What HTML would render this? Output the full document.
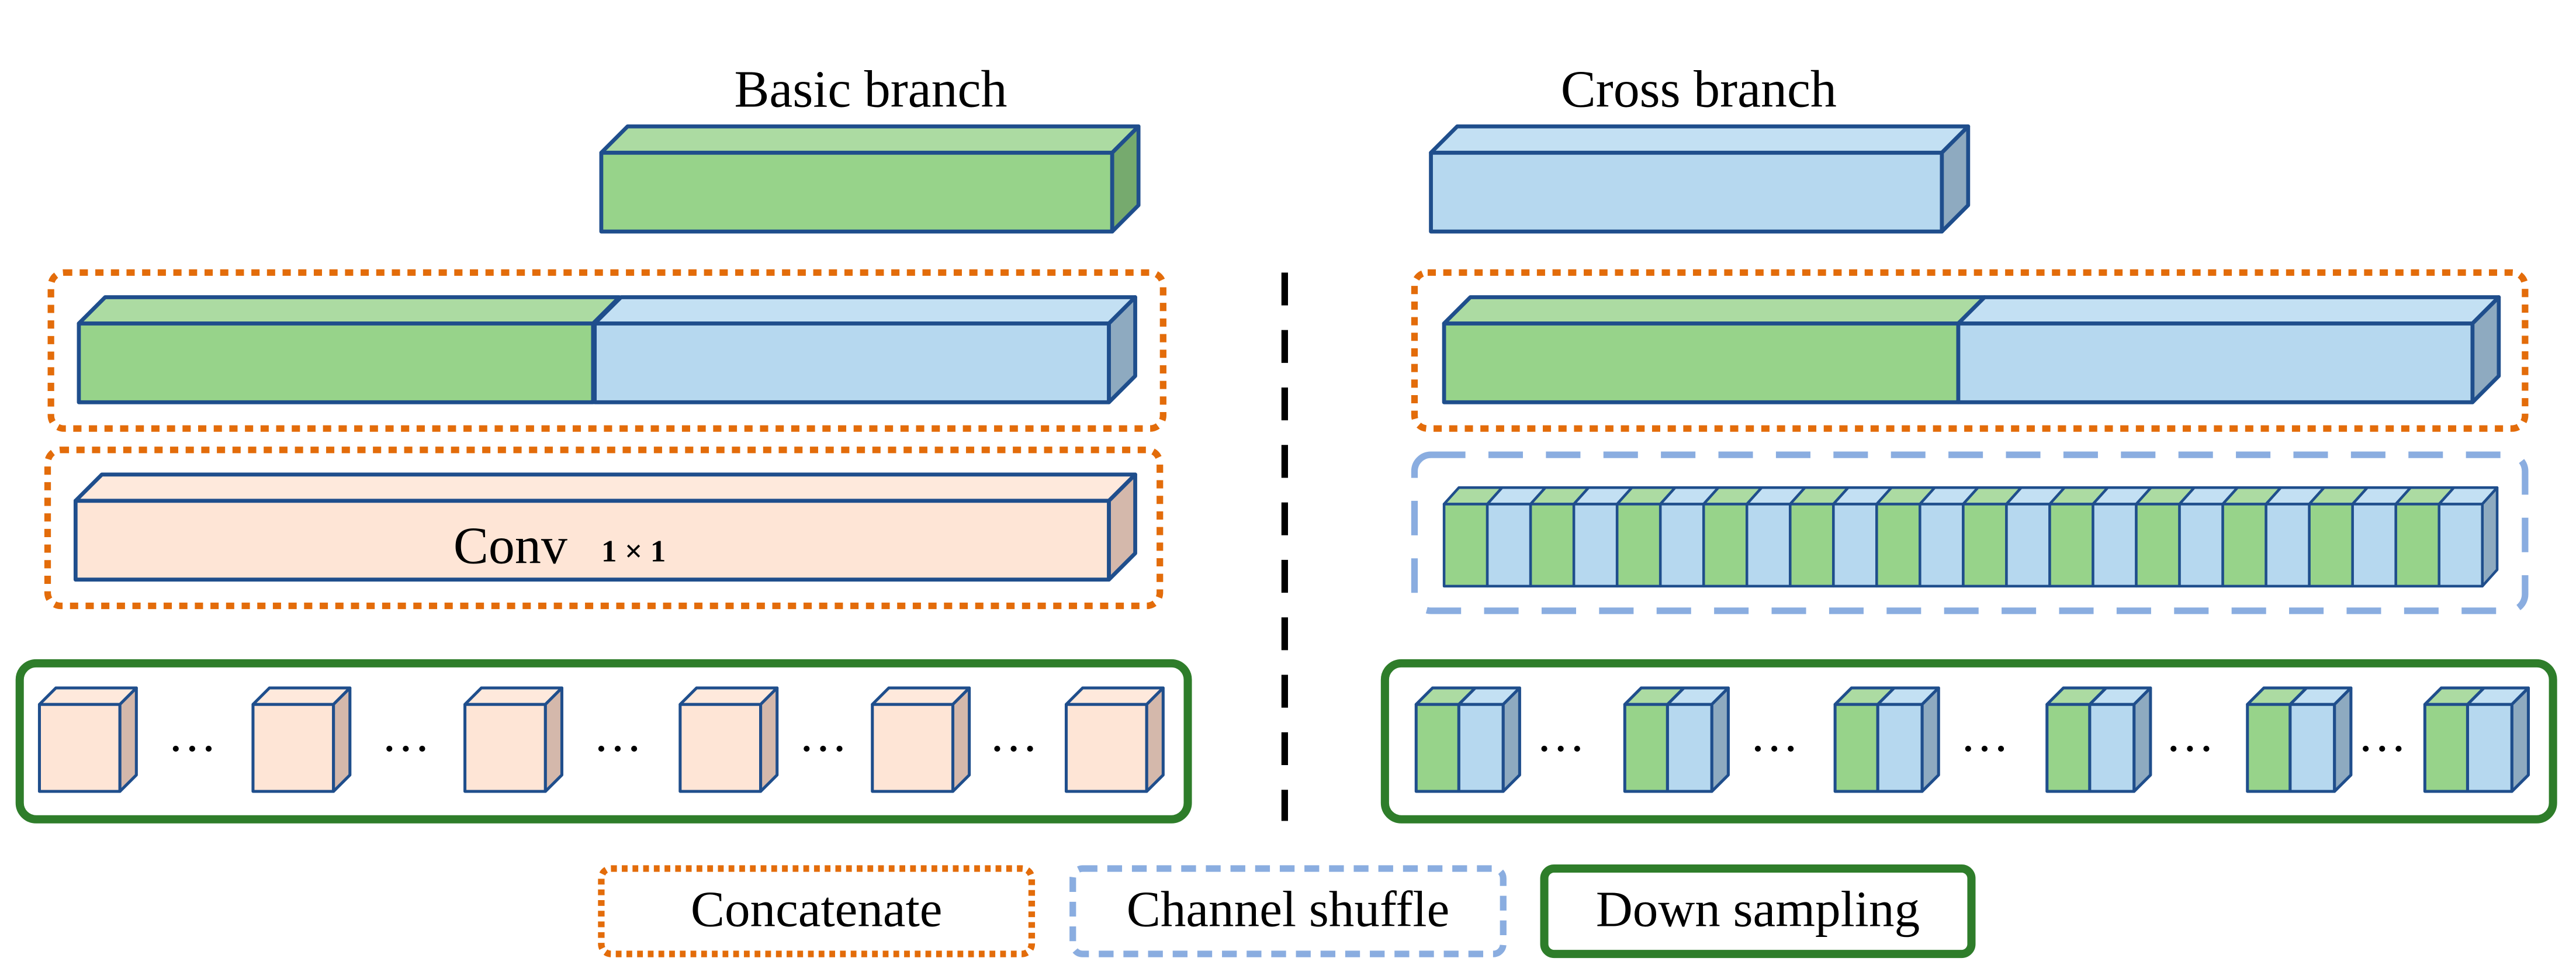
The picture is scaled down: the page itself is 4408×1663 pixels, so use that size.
<!DOCTYPE html>
<html><head><meta charset="utf-8"><style>
html,body{margin:0;padding:0;background:#fff}
svg{display:block}
text{font-family:"Liberation Serif",serif;fill:#000}
</style></head><body>
<svg width="4408" height="1663" viewBox="0 0 1568 592" preserveAspectRatio="none" xmlns="http://www.w3.org/2000/svg">
<defs>
<g id="pair" stroke="#1f4e8c" stroke-width="1.6" stroke-linejoin="round">
  <rect x="0" y="0" width="26.33" height="50" fill="#97d38a"/>
  <polygon points="0,0 9,-10 35.33,-10 26.33,0" fill="#acdba2"/>
  <rect x="26.33" y="0" width="26.33" height="50" fill="#b6d8ef"/>
  <polygon points="26.33,0 35.33,-10 61.67,-10 52.67,0" fill="#c3e0f3"/>
</g>
<g id="pc" stroke="#1f4e8c" stroke-width="1.8" stroke-linejoin="round">
  <rect x="0" y="0" width="49" height="53" fill="#fee5d6"/>
  <polygon points="0,0 10,-10 59,-10 49,0" fill="#fee9dc"/>
  <polygon points="49,0 59,-10 59,43 49,53" fill="#d4b8ab"/>
</g>
<g id="gc" stroke="#1f4e8c" stroke-width="1.8" stroke-linejoin="round">
  <rect x="0" y="0" width="26" height="53" fill="#97d38a"/>
  <polygon points="0,0 10,-10 36,-10 26,0" fill="#acdba2"/>
  <rect x="26" y="0" width="27" height="53" fill="#b6d8ef"/>
  <polygon points="26,0 36,-10 63,-10 53,0" fill="#c3e0f3"/>
  <polygon points="53,0 63,-10 63,43 53,53" fill="#8eaac0"/>
</g>
<g id="dots" fill="#000"><circle cx="0" cy="0" r="1.8"/><circle cx="10" cy="0" r="1.8"/><circle cx="20" cy="0" r="1.8"/></g>
</defs>

<!-- titles -->
<text x="530" y="65" font-size="32" text-anchor="middle">Basic branch</text>
<text x="1034" y="65" font-size="32" text-anchor="middle">Cross branch</text>

<g stroke="#1f4e8c" stroke-width="2.4" stroke-linejoin="round">
<!-- basic green -->
<rect x="366" y="93" width="311" height="48" fill="#97d38a"/>
<polygon points="366,93 382,77 693,77 677,93" fill="#acdba2"/>
<polygon points="677,93 693,77 693,125 677,141" fill="#76aa6e"/>
<!-- cross blue -->
<rect x="871" y="93" width="311" height="48" fill="#b6d8ef"/>
<polygon points="871,93 887,77 1198,77 1182,93" fill="#c3e0f3"/>
<polygon points="1182,93 1198,77 1198,125 1182,141" fill="#8eaac0"/>

<!-- left concat bar -->
<rect x="48" y="197" width="313" height="48" fill="#97d38a"/>
<polygon points="48,197 64,181 377,181 361,197" fill="#acdba2"/>
<rect x="362" y="197" width="313" height="48" fill="#b6d8ef"/>
<polygon points="362,197 378,181 691,181 675,197" fill="#c3e0f3"/>
<polygon points="675,197 691,181 691,229 675,245" fill="#8eaac0"/>

<!-- conv bar -->
<rect x="46" y="305" width="629" height="48" fill="#fee5d6"/>
<polygon points="46,305 62,289 691,289 675,305" fill="#fee9dc"/>
<polygon points="675,305 691,289 691,337 675,353" fill="#d4b8ab"/>

<!-- right concat bar -->
<rect x="879" y="197" width="313" height="48" fill="#97d38a"/>
<polygon points="879,197 895,181 1208,181 1192,197" fill="#acdba2"/>
<rect x="1192" y="197" width="313" height="48" fill="#b6d8ef"/>
<polygon points="1192,197 1208,181 1521,181 1505,197" fill="#c3e0f3"/>
<polygon points="1505,197 1521,181 1521,229 1505,245" fill="#8eaac0"/>
</g>

<text x="276" y="343" font-size="32">Conv</text>
<text x="366" y="342" font-size="19" font-weight="bold">1 × 1</text>

<!-- shuffle bar -->
<g transform="translate(879,307)">
<use href="#pair" x="0"/><use href="#pair" x="52.67"/><use href="#pair" x="105.33"/><use href="#pair" x="158"/>
<use href="#pair" x="210.67"/><use href="#pair" x="263.33"/><use href="#pair" x="316"/><use href="#pair" x="368.67"/>
<use href="#pair" x="421.33"/><use href="#pair" x="474"/><use href="#pair" x="526.67"/><use href="#pair" x="579.33"/>
</g>
<polygon points="1511,307 1520,297 1520,347 1511,357" fill="#8eaac0" stroke="#1f4e8c" stroke-width="1.6" stroke-linejoin="round"/>

<!-- group boxes -->
<g fill="none">
<rect x="31" y="166" width="677" height="95" rx="8" stroke="#e36c0a" stroke-width="4" stroke-dasharray="5 4.5"/>
<rect x="29" y="274" width="677" height="95" rx="8" stroke="#e36c0a" stroke-width="4" stroke-dasharray="5 4.5"/>
<rect x="861" y="166" width="676" height="95" rx="8" stroke="#e36c0a" stroke-width="4" stroke-dasharray="5 4.5"/>
<rect x="861" y="277" width="676" height="95" rx="10" stroke="#8aade0" stroke-width="4" stroke-dasharray="21 14"/>
<rect x="12" y="404" width="711" height="95" rx="10" stroke="#2e7d2a" stroke-width="5"/>
<rect x="843" y="404" width="711" height="95" rx="10" stroke="#2e7d2a" stroke-width="5"/>
<line x1="782" y1="166" x2="782" y2="500" stroke="#000" stroke-width="4" stroke-dasharray="20 15"/>
</g>

<!-- peach cubes -->
<use href="#pc" x="24" y="429"/><use href="#pc" x="154" y="429"/><use href="#pc" x="283" y="429"/>
<use href="#pc" x="414" y="429"/><use href="#pc" x="531" y="429"/><use href="#pc" x="649" y="429"/>
<use href="#dots" x="107" y="456"/><use href="#dots" x="237" y="456"/><use href="#dots" x="366" y="456"/>
<use href="#dots" x="491" y="456"/><use href="#dots" x="607" y="456"/>

<!-- green/blue cubes -->
<use href="#gc" x="862" y="429"/><use href="#gc" x="989" y="429"/><use href="#gc" x="1117" y="429"/>
<use href="#gc" x="1246" y="429"/><use href="#gc" x="1368" y="429"/><use href="#gc" x="1476" y="429"/>
<use href="#dots" x="940" y="456"/><use href="#dots" x="1070" y="456"/><use href="#dots" x="1198" y="456"/>
<use href="#dots" x="1323" y="456"/><use href="#dots" x="1440" y="456"/>

<!-- legend -->
<g fill="none">
<rect x="366" y="529" width="262" height="52" rx="6" stroke="#e36c0a" stroke-width="4" stroke-dasharray="3.5 3"/>
<rect x="653" y="529" width="262" height="52" rx="6" stroke="#8aade0" stroke-width="4" stroke-dasharray="9 6"/>
<rect x="940" y="529" width="260" height="52" rx="6" stroke="#2e7d2a" stroke-width="5"/>
</g>
<text x="497" y="564" font-size="31" text-anchor="middle">Concatenate</text>
<text x="784" y="564" font-size="31" text-anchor="middle">Channel shuffle</text>
<text x="1070" y="564" font-size="31" text-anchor="middle">Down sampling</text>
</svg>
</body></html>
